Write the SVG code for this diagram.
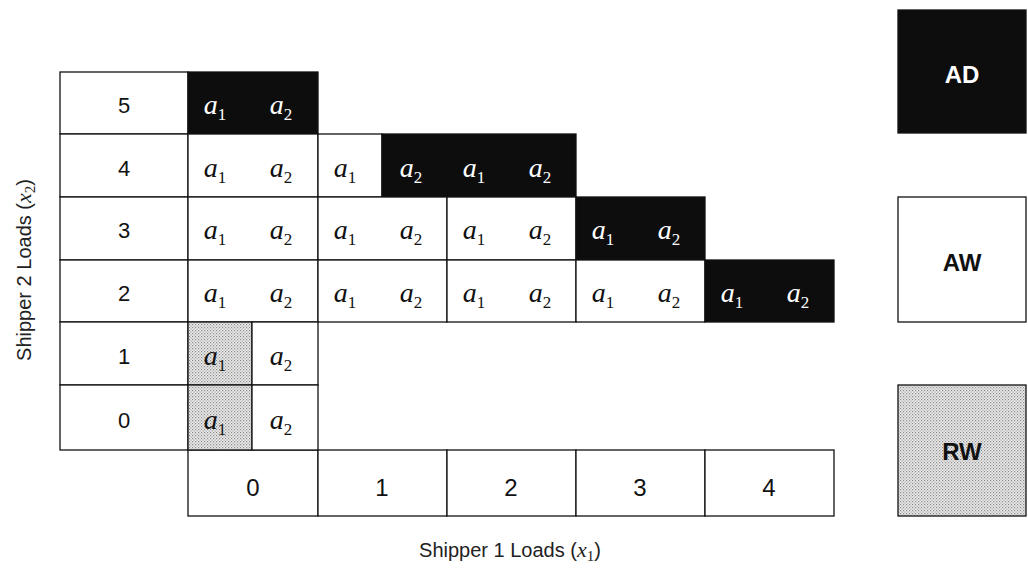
<svg xmlns="http://www.w3.org/2000/svg" width="1028" height="570" viewBox="0 0 1028 570">
<defs>
<pattern id="dots" width="3" height="3" patternUnits="userSpaceOnUse">
<rect width="3" height="3" fill="#ebebeb"/>
<rect x="0" y="0" width="1.2" height="1.2" fill="#8a8a8a"/>
<rect x="1.5" y="1.5" width="1.2" height="1.2" fill="#a0a0a0"/>
</pattern>
<style>
.c{fill:#fff;stroke:#111;stroke-width:1.3}
.b{fill:#0d0d0d;stroke:#111;stroke-width:1.3}
.d{fill:url(#dots);stroke:#111;stroke-width:1.3}
.n{font-family:"Liberation Sans",Arial,sans-serif;font-size:22px;fill:#111;text-anchor:middle}
.x{font-size:24px}
.a{font-family:"Liberation Serif","DejaVu Serif",serif;font-style:italic;font-size:28px;fill:#111;text-anchor:middle}
.w{fill:#fff}
.s{font-size:17px;font-style:normal}
.lg{font-family:"Liberation Sans",Arial,sans-serif;font-size:24px;font-weight:bold;text-anchor:middle}
.ax{font-family:"Liberation Sans",Arial,sans-serif;font-size:20px;fill:#222;text-anchor:middle}
</style>
</defs>
<g id="rowlabels">
<rect class="c" x="60" y="72" width="128" height="62"/><text class="n" x="124" y="113">5</text>
<rect class="c" x="60" y="134" width="128" height="63"/><text class="n" x="124" y="176">4</text>
<rect class="c" x="60" y="197" width="128" height="63"/><text class="n" x="124" y="238">3</text>
<rect class="c" x="60" y="260" width="128" height="62"/><text class="n" x="124" y="301">2</text>
<rect class="c" x="60" y="322" width="128" height="63"/><text class="n" x="124" y="364">1</text>
<rect class="c" x="60" y="385" width="128" height="65"/><text class="n" x="124" y="428">0</text>
</g>
<g id="collabels">
<rect class="c" x="188" y="450" width="130" height="66"/><text class="n x" x="253" y="496">0</text>
<rect class="c" x="318" y="450" width="129" height="66"/><text class="n x" x="382" y="496">1</text>
<rect class="c" x="447" y="450" width="129" height="66"/><text class="n x" x="511" y="496">2</text>
<rect class="c" x="576" y="450" width="129" height="66"/><text class="n x" x="640" y="496">3</text>
<rect class="c" x="705" y="450" width="129" height="66"/><text class="n x" x="769" y="496">4</text>
</g>
<g id="cells">
<rect class="b" x="188" y="72" width="130" height="62"/>
<rect class="c" x="188" y="134" width="130" height="63"/>
<rect class="c" x="318" y="134" width="64" height="63"/>
<rect class="b" x="382" y="134" width="194" height="63"/>
<rect class="c" x="188" y="197" width="130" height="63"/>
<rect class="c" x="318" y="197" width="129" height="63"/>
<rect class="c" x="447" y="197" width="129" height="63"/>
<rect class="b" x="576" y="197" width="129" height="63"/>
<rect class="c" x="188" y="260" width="130" height="62"/>
<rect class="c" x="318" y="260" width="129" height="62"/>
<rect class="c" x="447" y="260" width="129" height="62"/>
<rect class="c" x="576" y="260" width="129" height="62"/>
<rect class="b" x="705" y="260" width="129" height="62"/>
<rect class="d" x="188" y="322" width="64" height="63"/>
<rect class="c" x="252" y="322" width="66" height="63"/>
<rect class="d" x="188" y="385" width="64" height="65"/>
<rect class="c" x="252" y="385" width="66" height="65"/>
</g>
<g id="labels">
<text class="a w" x="215" y="114">a<tspan class="s" dy="6">1</tspan></text>
<text class="a w" x="281" y="114">a<tspan class="s" dy="6">2</tspan></text>
<text class="a" x="215" y="177">a<tspan class="s" dy="6">1</tspan></text>
<text class="a" x="281" y="177">a<tspan class="s" dy="6">2</tspan></text>
<text class="a" x="345" y="177">a<tspan class="s" dy="6">1</tspan></text>
<text class="a w" x="411" y="177">a<tspan class="s" dy="6">2</tspan></text>
<text class="a w" x="474" y="177">a<tspan class="s" dy="6">1</tspan></text>
<text class="a w" x="540" y="177">a<tspan class="s" dy="6">2</tspan></text>
<text class="a" x="215" y="239">a<tspan class="s" dy="6">1</tspan></text>
<text class="a" x="281" y="239">a<tspan class="s" dy="6">2</tspan></text>
<text class="a" x="345" y="239">a<tspan class="s" dy="6">1</tspan></text>
<text class="a" x="411" y="239">a<tspan class="s" dy="6">2</tspan></text>
<text class="a" x="474" y="239">a<tspan class="s" dy="6">1</tspan></text>
<text class="a" x="540" y="239">a<tspan class="s" dy="6">2</tspan></text>
<text class="a w" x="603" y="239">a<tspan class="s" dy="6">1</tspan></text>
<text class="a w" x="669" y="239">a<tspan class="s" dy="6">2</tspan></text>
<text class="a" x="215" y="302">a<tspan class="s" dy="6">1</tspan></text>
<text class="a" x="281" y="302">a<tspan class="s" dy="6">2</tspan></text>
<text class="a" x="345" y="302">a<tspan class="s" dy="6">1</tspan></text>
<text class="a" x="411" y="302">a<tspan class="s" dy="6">2</tspan></text>
<text class="a" x="474" y="302">a<tspan class="s" dy="6">1</tspan></text>
<text class="a" x="540" y="302">a<tspan class="s" dy="6">2</tspan></text>
<text class="a" x="603" y="302">a<tspan class="s" dy="6">1</tspan></text>
<text class="a" x="669" y="302">a<tspan class="s" dy="6">2</tspan></text>
<text class="a w" x="732" y="302">a<tspan class="s" dy="6">1</tspan></text>
<text class="a w" x="798" y="302">a<tspan class="s" dy="6">2</tspan></text>
<text class="a" x="215" y="365">a<tspan class="s" dy="6">1</tspan></text>
<text class="a" x="281" y="365">a<tspan class="s" dy="6">2</tspan></text>
<text class="a" x="215" y="429">a<tspan class="s" dy="6">1</tspan></text>
<text class="a" x="281" y="429">a<tspan class="s" dy="6">2</tspan></text>
</g>
<g id="legend-AD"><rect class="b" x="898" y="10" width="128" height="123"/><text class="lg" x="962" y="83" fill="#fff">AD</text></g>
<g id="legend-AW"><rect class="c" x="898" y="197" width="128" height="125"/><text class="lg" x="962" y="271" fill="#111">AW</text></g>
<g id="legend-RW"><rect class="d" x="898" y="385" width="128" height="131"/><text class="lg" x="962" y="460" fill="#111">RW</text></g>
<g id="axes">
<text class="ax" x="510" y="557">Shipper 1 Loads (<tspan font-family="Liberation Serif" font-style="italic" font-size="22">x</tspan><tspan font-family="Liberation Serif" font-size="15" dy="4">1</tspan><tspan dy="-4">)</tspan></text>
<text class="ax" transform="translate(31,270) rotate(-90)">Shipper 2 Loads (<tspan font-family="Liberation Serif" font-style="italic" font-size="22">x</tspan><tspan font-family="Liberation Serif" font-size="15" dy="4">2</tspan><tspan dy="-4">)</tspan></text>
</g>
<g id="connectors"></g>
</svg>
